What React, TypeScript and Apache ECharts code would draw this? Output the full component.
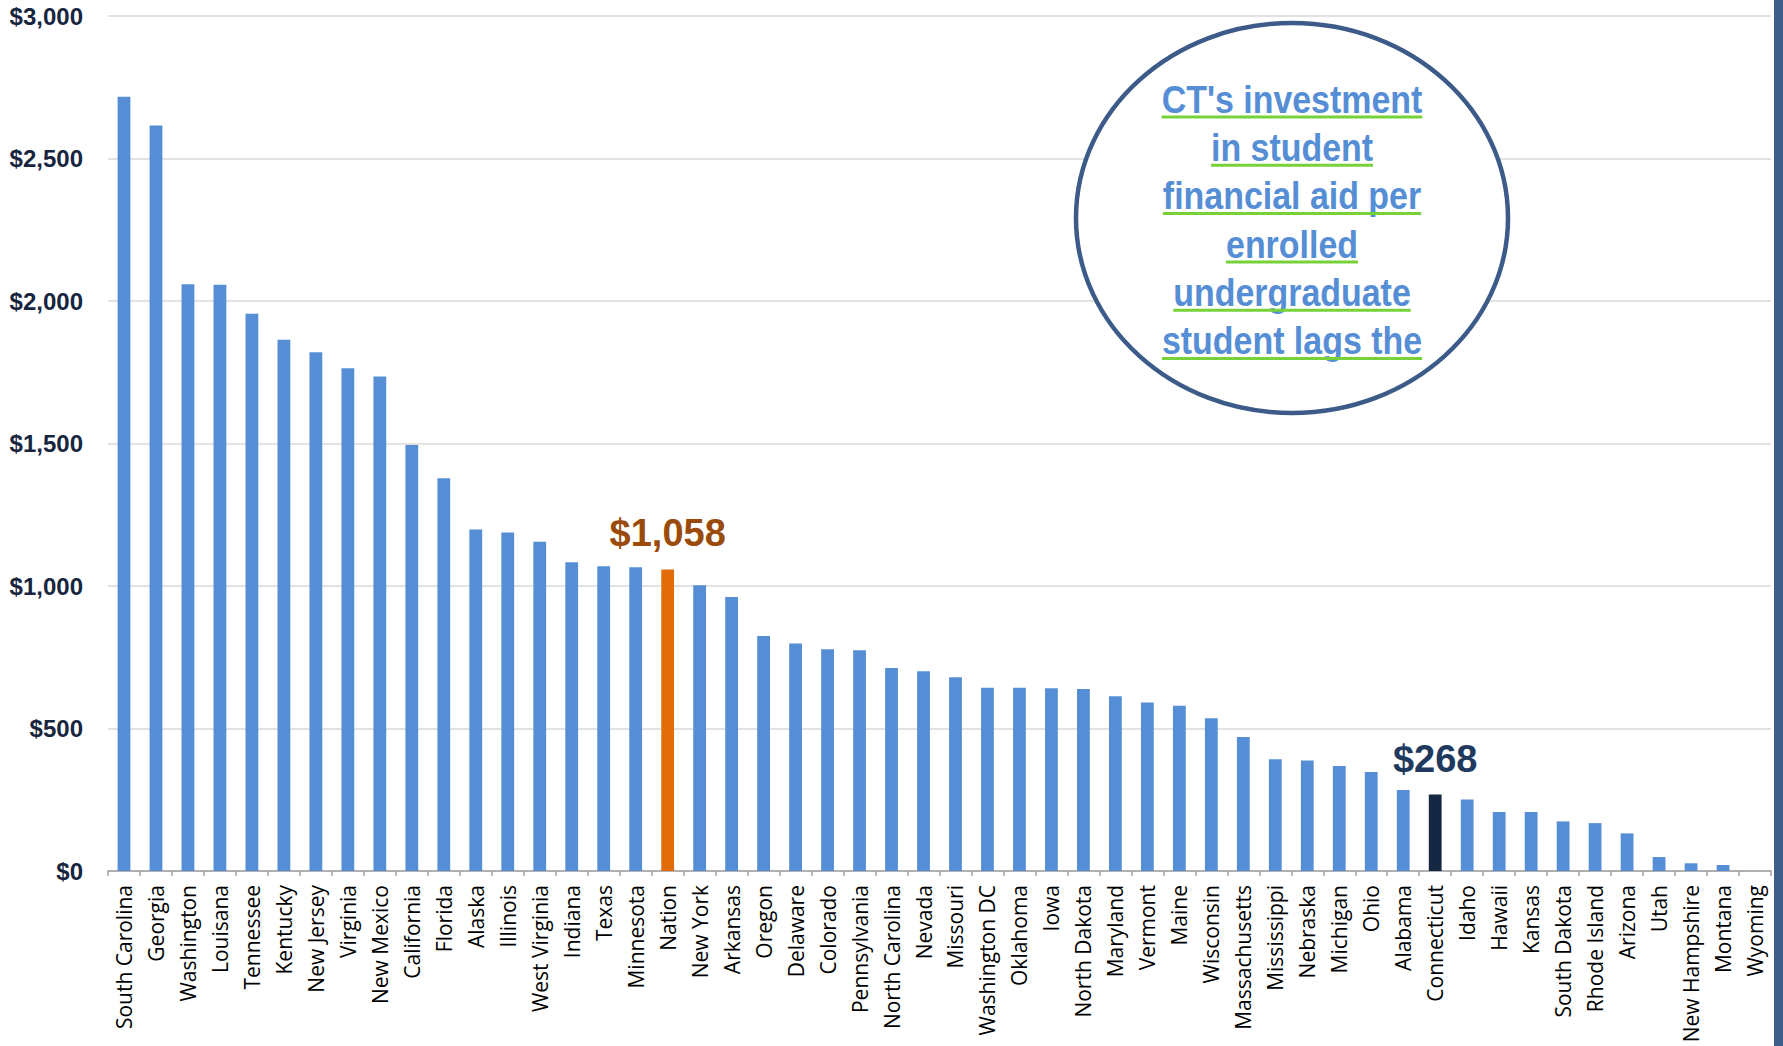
import React, { useEffect, useRef } from "react";
import * as echarts from "echarts";

const categories = [
  "South Carolina", "Georgia", "Washington", "Louisana", "Tennessee", "Kentucky",
  "New Jersey", "Virginia", "New Mexico", "California", "Florida", "Alaska",
  "Illinois", "West Virginia", "Indiana", "Texas", "Minnesota", "Nation",
  "New York", "Arkansas", "Oregon", "Delaware", "Colorado", "Pennsylvania",
  "North Carolina", "Nevada", "Missouri", "Washington DC", "Oklahoma", "Iowa",
  "North Dakota", "Maryland", "Vermont", "Maine", "Wisconsin", "Massachusetts",
  "Mississippi", "Nebraska", "Michigan", "Ohio", "Alabama", "Connecticut",
  "Idaho", "Hawaii", "Kansas", "South Dakota", "Rhode Island", "Arizona",
  "Utah", "New Hampshire", "Montana", "Wyoming",
];

const aidPerStudent = [
  2717, 2616, 2059, 2057, 1955, 1864, 1820, 1764, 1735, 1495, 1378, 1198,
  1188, 1155, 1083, 1069, 1066, 1058, 1003, 961, 825, 798, 778, 775,
  712, 701, 680, 643, 643, 641, 639, 613, 591, 580, 536, 470,
  392, 388, 368, 347, 284, 268, 251, 207, 207, 174, 168, 132,
  49, 27, 21, 0,
];

const yTicks = [0, 500, 1000, 1500, 2000, 2500, 3000];

const calloutLines = [
  "CT's investment",
  "in student",
  "financial aid per",
  "enrolled",
  "undergraduate",
  "student lags the",
];

const BAR_BLUE = "#558ED5";
const NATION_COLOR = "#E36C0A";
const NATION_LABEL = "#9A4B0C";
const CT_COLOR = "#142843";
const CT_LABEL = "#203A5E";
const AXIS_TEXT = "#17253F";

const fmt = (v: number) => "$" + v.toLocaleString("en-US");

export default function App() {
  const ref = useRef<HTMLDivElement>(null);

  useEffect(() => {
    if (!ref.current) return;
    const chart = echarts.init(ref.current, undefined, { renderer: "svg" });

    const calloutFont = "bold 39px 'Liberation Sans', Arial, sans-serif";
    const squeeze = 0.87;
    const canvas = document.createElement("canvas");
    const ctx = canvas.getContext("2d");
    if (ctx) ctx.font = calloutFont;

    const cx = 1292;
    const firstBaseline = 113;
    const step = 48.3;
    const calloutEls: any[] = [];
    calloutLines.forEach((t, i) => {
      const base = firstBaseline + i * step;
      const w = (ctx ? ctx.measureText(t).width : t.length * 19) * squeeze;
      calloutEls.push({
        type: "text",
        x: cx,
        y: base - 13.5,
        scaleX: squeeze,
        z: 101,
        style: {
          text: t,
          font: calloutFont,
          fill: BAR_BLUE,
          align: "center",
          verticalAlign: "middle",
          textAlign: "center",
          textVerticalAlign: "middle",
        },
      });
      calloutEls.push({
        type: "line",
        z: 101,
        shape: { x1: cx - w / 2, y1: base + 4, x2: cx + w / 2, y2: base + 4 },
        style: { stroke: "#77D23A", lineWidth: 3 },
      });
    });

    const makeLabel = (color: string) => ({
      show: true,
      position: "top",
      distance: 17,
      formatter: (p: any) => fmt(p.value),
      fontFamily: "'Liberation Sans', Arial, sans-serif",
      fontWeight: "bold",
      fontSize: 38,
      color,
    });

    const data = aidPerStudent.map((v, i) => {
      const name = categories[i];
      if (name === "Nation") {
        return { value: v, itemStyle: { color: NATION_COLOR }, label: makeLabel(NATION_LABEL) };
      }
      if (name === "Connecticut") {
        return { value: v, itemStyle: { color: CT_COLOR }, label: makeLabel(CT_LABEL) };
      }
      return { value: v };
    });

    chart.setOption({
      animation: false,
      backgroundColor: "#ffffff",
      grid: { left: 108, right: 12, top: 16, bottom: 175, containLabel: false },
      xAxis: {
        type: "category",
        data: categories,
        boundaryGap: true,
        axisLine: { show: true, lineStyle: { color: "#A0A0A0", width: 1.5 } },
        axisTick: { show: true, alignWithLabel: false, length: 5, lineStyle: { color: "#A0A0A0", width: 1.5 } },
        axisLabel: {
          interval: 0,
          rotate: 90,
          margin: 14,
          color: "#000000",
          fontFamily: "'Open Sans', sans-serif",
          fontSize: 21,
        },
      },
      yAxis: {
        type: "value",
        min: yTicks[0],
        max: yTicks[yTicks.length - 1],
        interval: yTicks[1] - yTicks[0],
        axisLine: { show: false },
        axisTick: { show: false },
        splitLine: { show: true, lineStyle: { color: "#D9D9D9", width: 1.5 } },
        axisLabel: {
          margin: 25,
          formatter: (v: number) => fmt(v),
          color: AXIS_TEXT,
          fontFamily: "'Liberation Sans', Arial, sans-serif",
          fontWeight: "bold",
          fontSize: 24,
        },
      },
      series: [
        {
          type: "bar",
          data,
          barWidth: "40%",
          itemStyle: { color: BAR_BLUE },
        },
      ],
      graphic: [
        {
          type: "rect",
          z: 100,
          shape: { x: 1774, y: 0, width: 9, height: 1046 },
          style: { fill: "#3E5D88" },
        },
        {
          type: "ellipse",
          z: 100,
          shape: { cx: cx, cy: 218, rx: 216, ry: 195 },
          style: { fill: "#ffffff", stroke: "#3C5B89", lineWidth: 4.5 },
        },
        ...calloutEls,
      ],
    });

    return () => chart.dispose();
  }, []);

  return (
    <div
      ref={ref}
      style={{ position: "fixed", left: 0, top: 0, width: 1783, height: 1046, background: "#fff" }}
    />
  );
}
